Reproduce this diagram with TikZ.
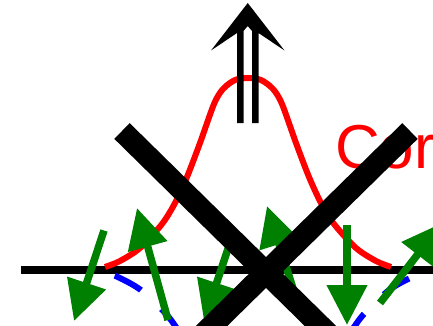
\documentclass[tikz,border=0pt]{standalone}
\usepackage{fontspec}
\setmainfont{Liberation Sans}
\usetikzlibrary{arrows.meta}
\definecolor{sred}{RGB}{255,0,0}
\definecolor{sblue}{RGB}{0,0,255}
\definecolor{sgreen}{RGB}{0,128,0}
\tikzset{
  axisline/.style={draw=black, line width=8pt},
  redcurve/.style={draw=sred, line width=6pt},
  bluecurve/.style={draw=sblue, line width=6pt, dash pattern=on 30pt off 27.75pt, dash phase=42.75pt},
  spin/.style={draw=sgreen, line width=7.5pt, -{Triangle[length=40pt,width=39pt]}},
  crossbar/.style={draw=black, line width=22pt},
  bigarrow/.style={fill=black},
  labeltext/.style={text=sred, font=\fontsize{62}{62}\selectfont, anchor=base west, inner sep=0pt},
}
\begin{document}
\begin{tikzpicture}[x=1pt,y=-1pt]
\useasboundingbox (0,0) rectangle (433,326);
\clip (0,0) rectangle (433,326);
% axis
\coordinate (axL) at (21,270);
\coordinate (axR) at (445,270);
\draw[axisline] (axL) -- (axR);
% red curve
\draw[redcurve] plot[smooth] coordinates {(105,267) (120,261) (140,248) (162,224) (175,203) (187,177) (200,143) (214,104) (223,89) (235,80) (248,78) (261,80) (273,89) (282,104) (296,143) (309,177) (321,203) (334,224) (356,248) (376,261) (391,267)};
% blue dashed curve
\draw[bluecurve] plot[smooth] coordinates {(100.5,271) (117.8,277) (140.8,290) (166.1,314) (181,335) (194.8,361) (209.8,395) (226,435) (236.3,449) (250,458) (265,460) (280,458) (293.7,449) (304,435) (320.2,395) (335.2,361) (349,335) (363.9,314) (389.2,290) (412.2,277) (429.5,271)};
% label
\node[labeltext] (lbl) at (335,168) {Cor};
% double arrow
\fill[bigarrow] (247.75,3) -- (284.5,50.5) -- (258.5,33) -- (258.5,123) -- (252,123) -- (252,31) -- (247.75,26) -- (243.5,31) -- (243.5,123) -- (237,123) -- (237,33) -- (211,50.5) -- cycle;
% green spins
\coordinate (t1) at (104,230.5); \coordinate (h1) at (74,321);
\coordinate (t2) at (168,320);   \coordinate (h2) at (137,208);
\coordinate (t3) at (234,230.5); \coordinate (h3) at (204,321);
\coordinate (t4) at (302,317);   \coordinate (h4) at (267,206);
\coordinate (t5) at (347,225);   \coordinate (h5) at (347,325);
\coordinate (t6) at (380,303);   \coordinate (h6) at (442,223);
\draw[spin] (t1) -- (h1);
\draw[spin] (t2) -- (h2);
\draw[spin] (t3) -- (h3);
\draw[spin] (t4) -- (h4);
\draw[spin] (t5) -- (h5);
\draw[spin] (t6) -- (h6);
% big X
\coordinate (xa) at (122,131); \coordinate (xb) at (410,414);
\coordinate (xc) at (410,131); \coordinate (xd) at (122,414);
\draw[crossbar] (xa) -- (xb);
\draw[crossbar] (xc) -- (xd);
\end{tikzpicture}
\end{document}
